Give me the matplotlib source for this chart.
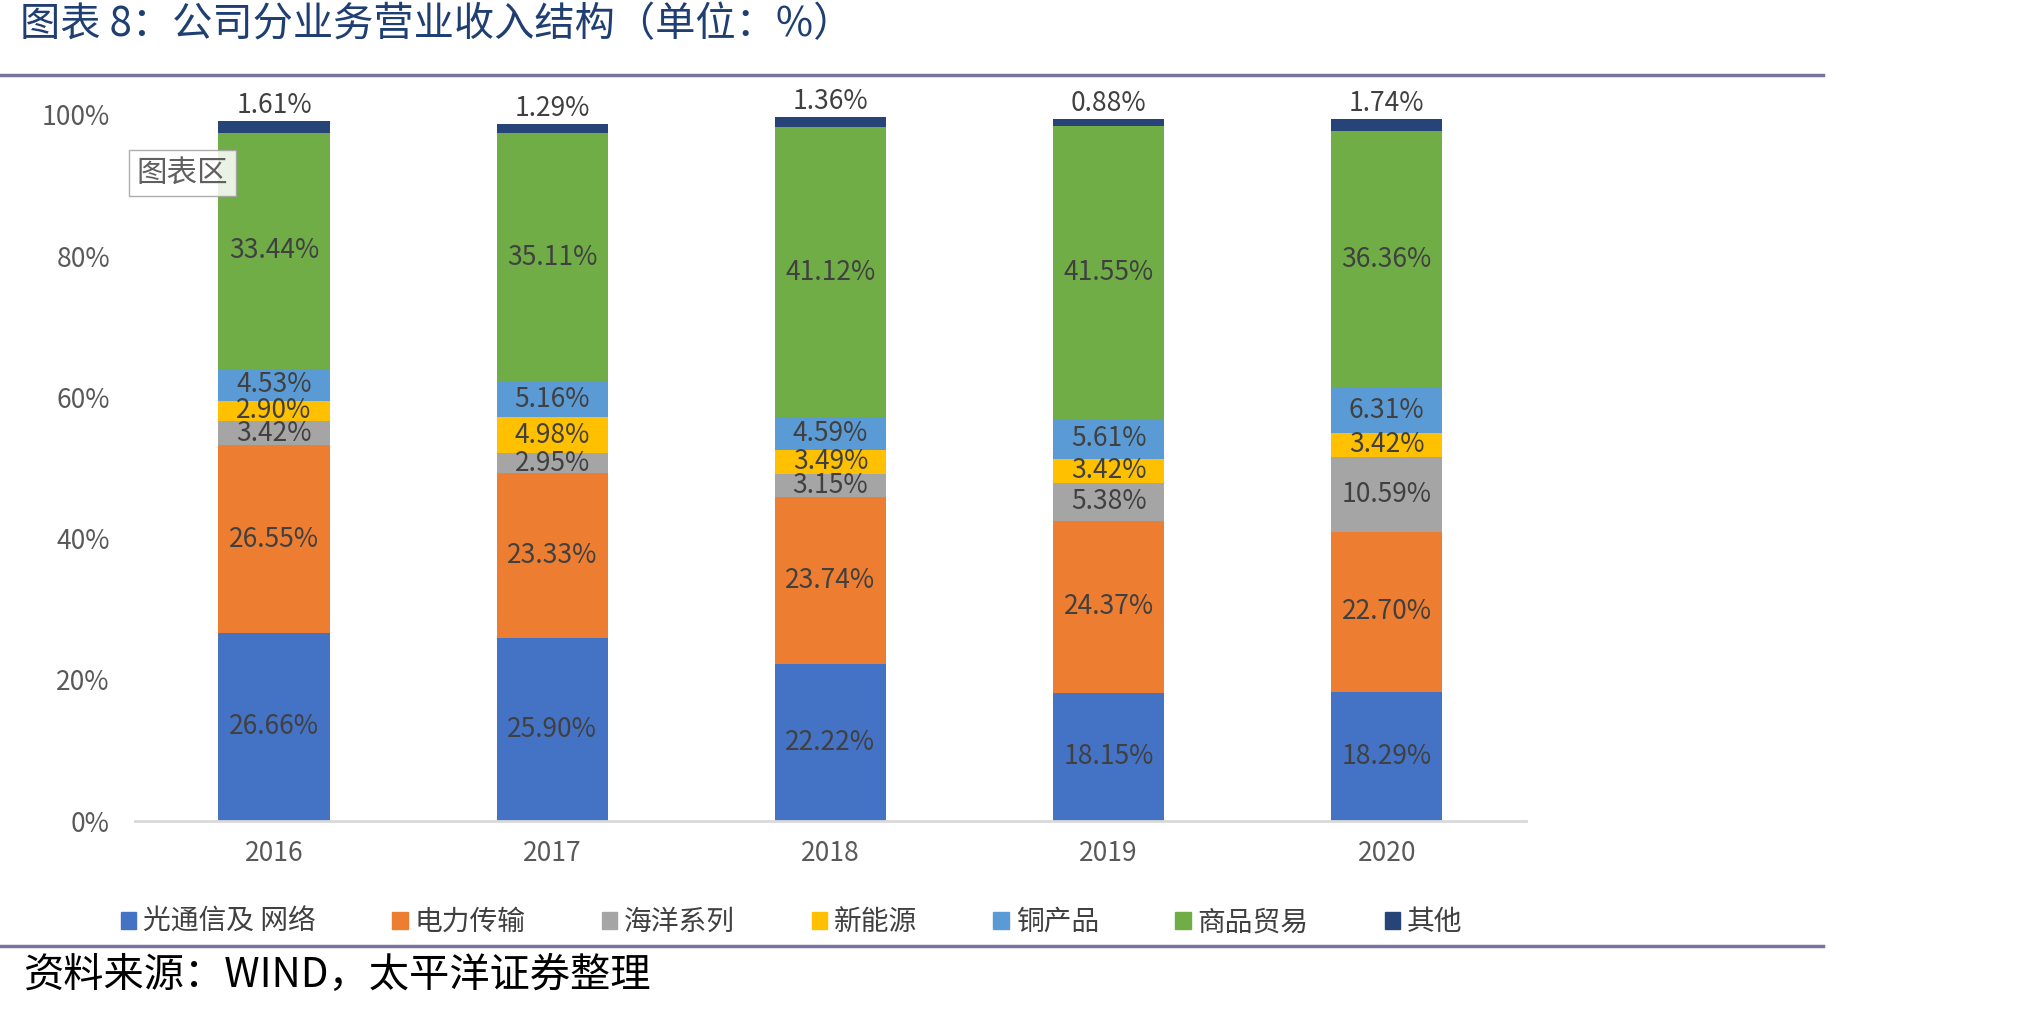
import numpy as np
import matplotlib.pyplot as plt
from matplotlib.patches import Patch
from matplotlib.lines import Line2D

plt.rcParams['font.family'] = ['Liberation Sans Narrow', 'Noto Sans CJK SC', 'DejaVu Sans']

years = ['2016', '2017', '2018', '2019', '2020']
series_names = ['光通信及 网络', '电力传输', '海洋系列', '新能源', '铜产品', '商品贸易', '其他']
optical = [26.66, 25.90, 22.22, 18.15, 18.29]
power = [26.55, 23.33, 23.74, 24.37, 22.70]
marine = [3.42, 2.95, 3.15, 5.38, 10.59]
new_energy = [2.90, 4.98, 3.49, 3.42, 3.42]
copper = [4.53, 5.16, 4.59, 5.61, 6.31]
trade = [33.44, 35.11, 41.12, 41.55, 36.36]
other = [1.61, 1.29, 1.36, 0.88, 1.74]
colors = ['#4472C4', '#ED7D31', '#A5A5A5', '#FFC000', '#5B9BD5', '#70AD47', '#264478']

data = [optical, power, marine, new_energy, copper, trade, other]

fig = plt.figure(figsize=(20.2, 10.11), dpi=100)
ax = fig.add_axes([0.0668, 0.1879, 0.6886, 0.6984])

x = np.arange(len(years))
bottom = np.zeros(len(years))
for i, vals in enumerate(data):
    vals = np.array(vals)
    ax.bar(x, vals, 0.4, bottom=bottom, color=colors[i], zorder=2)
    for j in range(len(years)):
        if i == len(data) - 1:
            ax.text(x[j], bottom[j] + vals[j] + 0.3, '%.2f%%' % vals[j], ha='center', va='bottom',
                    fontsize=19, color='#404040')
        else:
            ax.text(x[j], bottom[j] + vals[j] / 2, '%.2f%%' % vals[j], ha='center', va='center',
                    fontsize=19, color='#404040')
    bottom += vals

ax.set_xlim(-0.5, 4.5)
ax.set_ylim(0, 100)
ax.set_xticks(x)
ax.set_xticklabels(years)
ax.set_yticks(np.arange(0, 101, 20))
ax.set_yticklabels(['%d%%' % v for v in range(0, 101, 20)])
ax.tick_params(axis='both', length=0, labelsize=19, colors='#595959')
ax.tick_params(axis='x', pad=14)
ax.tick_params(axis='y', pad=18)
for s in ['top', 'right', 'left']:
    ax.spines[s].set_visible(False)
ax.spines['bottom'].set_color('#D9D9D9')
ax.spines['bottom'].set_linewidth(2)

# "图表区" tooltip left over from the screenshot
ax.text(-0.33, 91.8, '图表区', fontsize=22, color='#606060', ha='center', va='center',
        family=['Noto Sans CJK SC'], zorder=5,
        bbox=dict(boxstyle='square,pad=0.25', fc='white', ec='#A0A0A0', alpha=0.85))

# title and rules
fig.text(0.010, 0.976, '图表 8：公司分业务营业收入结构（单位：%）', fontsize=29, color='#1F3F73',
         family=['Noto Sans CJK SC', 'DejaVu Sans'], va='center', ha='left')
fig.add_artist(Line2D([0, 0.9025], [0.926, 0.926], color='#77749F', lw=2.5))
fig.add_artist(Line2D([0, 0.9025], [0.064, 0.064], color='#77749F', lw=2.5))
fig.text(0.012, 0.035, '资料来源：WIND，太平洋证券整理', fontsize=29, color='black', style='italic',
         family=['Noto Sans CJK SC', 'DejaVu Sans'], va='center', ha='left')

handles = [Patch(color=c, label=n) for c, n in zip(colors, series_names)]
fig.legend(handles=handles, loc='center', bbox_to_anchor=(0.392, 0.088), ncol=7, frameon=False,
           handlelength=0.55, handleheight=0.55, handletextpad=0.25, columnspacing=2.75,
           prop={'family': ['Noto Sans CJK SC'], 'size': 20}, labelcolor='#404040')

fig.savefig('out.png', dpi=100)
